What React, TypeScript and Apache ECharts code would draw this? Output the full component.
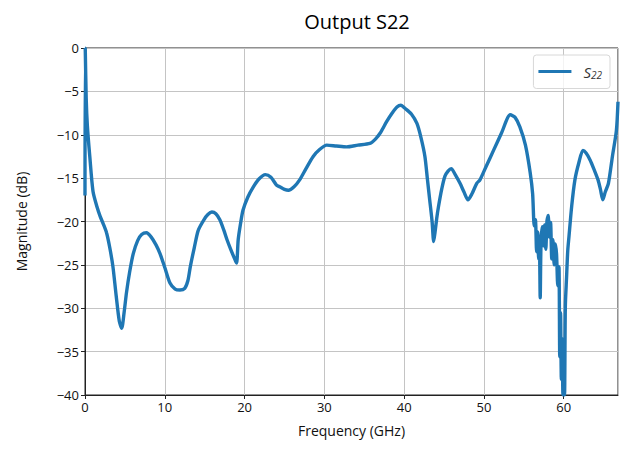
import React, { useEffect, useRef } from "react";
import * as echarts from "echarts";

const freqGHz = [
  0, 0.03, 0.15, 0.3, 0.6, 1.0, 1.5, 1.9, 2.3, 2.7, 3.1, 3.5, 3.9, 4.3, 4.6, 4.9, 5.2, 5.6, 6.05, 6.6, 7.1, 7.7, 8.3, 8.9, 9.4,
  10.0, 10.65, 11.3, 11.9, 12.5, 12.9, 13.2, 13.7, 14.2, 14.9, 15.4, 15.9, 16.4, 16.9, 17.4, 17.8, 18.3, 18.8, 19.0, 19.2,
  19.5, 19.8, 20.4, 21.1, 21.8, 22.6, 23.3, 24.0, 24.4, 25.0, 25.5, 26.2, 26.9, 27.7, 28.6, 29.4, 30.3, 31.5, 32.8, 34.2,
  35.7, 36.4, 37.0, 37.8, 38.5, 39.1, 39.6, 40.1, 40.9, 41.6, 42.1, 42.6, 42.9, 43.2, 43.5, 43.7, 43.9, 44.1, 44.3, 44.7,
  45.1, 45.5, 45.9, 46.4, 47.0, 47.5, 48.0, 48.5, 49.1, 49.5, 50.3, 51.2, 52.2, 53.3, 53.9, 54.5, 55.2, 55.8, 56.1, 56.3,
  56.45, 56.6, 56.75, 56.85, 56.95, 57.05, 57.15, 57.3, 57.45, 57.6, 57.75, 57.9, 58.05, 58.2, 58.35, 58.5, 58.65, 58.8,
  58.95, 59.1, 59.25, 59.4, 59.5, 59.6, 59.7, 59.8, 59.9, 60.0, 60.1, 60.2, 60.35, 60.5, 60.65,
  61.0, 61.4, 61.9, 62.4, 62.8, 63.3, 63.8, 64.3, 64.6, 64.9, 65.2, 65.6, 66.1, 66.6, 66.8
];

const s22dB = [
  -17, 0, -5.8, -9, -12.5, -16.5, -18.3, -19.4, -20.3, -21.3, -23, -25.2, -28.5, -31.5, -32.3, -30.5, -28.2, -25.8, -23.7, -22.2, -21.5, -21.3, -21.8, -22.7, -23.7,
  -25.3, -27.1, -27.8, -27.9, -27.7, -26.8, -25.2, -23, -21, -19.8, -19.2, -18.9, -19.1, -19.8, -21, -22.1, -23.3, -24.4, -24.8, -22.1,
  -20.2, -18.7, -17.2, -16, -15.1, -14.6, -14.9, -15.8, -16, -16.3, -16.4, -16, -15.2, -13.9, -12.5, -11.7, -11.2, -11.3, -11.4, -11.2,
  -11, -10.5, -9.8, -8.5, -7.5, -6.8, -6.6, -6.95, -7.6, -8.7, -10.3, -12.5, -15, -17.5, -20, -22.3, -21, -19.5, -18.3, -16.3,
  -14.8, -14.2, -13.9, -14.6, -15.6, -16.6, -17.5, -16.8, -15.6, -15.2, -13.6, -11.8, -9.8, -7.7, -8, -9.1, -11.2, -14.4, -16.8, -20.5,
  -19.8, -23.5, -21.2, -24.3, -22.4, -28.8, -22.5, -20.6, -22.8, -20.4, -23.2, -19.9, -19.3, -21.8, -20.1, -24.3, -22.1, -25.0,
  -22.6, -23.8, -27.4, -25.2, -35.6, -30.5, -38.2, -33.5, -40, -37.5, -40, -29.8, -26.5, -23.4, -21.8,
  -18.2, -15.2, -13.2, -11.8, -12.1, -12.9, -14, -15.2, -16.3, -17.5, -16.6, -15.6, -12.5, -9.5, -6.2
];

const seriesName = "S22";
const chartTitle = "Output S22";
const xAxisTitle = "Frequency (GHz)";
const yAxisTitle = "Magnitude (dB)";

const fmtMinus = (v: number) => (v < 0 ? "\u2212" + Math.abs(v) : String(v));

export default function App() {
  const ref = useRef<HTMLDivElement>(null);
  useEffect(() => {
    if (!ref.current) return;
    const chart = echarts.init(ref.current, undefined, { renderer: "svg" });
    const font = "Open Sans";
    chart.setOption({
      animation: false,
      backgroundColor: "#fff",
      title: {
        text: chartTitle,
        left: 352,
        textAlign: "center",
        top: 6,
        textStyle: { fontFamily: font, fontSize: 20, fontWeight: "normal", color: "#000" },
      },
      grid: {
        left: 85,
        right: 5,
        top: 48,
        bottom: 58,
        show: true,
        borderColor: "#222",
        borderWidth: 1,
        backgroundColor: "transparent",
      },
      legend: {
        right: 13,
        top: 55,
        orient: "vertical",
        data: [{ name: seriesName, icon: "rect" }],
        itemWidth: 33,
        itemHeight: 3,
        itemGap: 4,
        padding: [9, 8, 9, 5],
        borderColor: "#d8d8d8",
        borderWidth: 1,
        borderRadius: 3,
        backgroundColor: "rgba(255,255,255,0.8)",
        formatter: () => "{s|S}{sub|22}",
        textStyle: {
          rich: {
            s: { fontFamily: font, fontStyle: "italic", fontSize: 15, color: "#333", padding: [0, 0, 0, 7] },
            sub: { fontFamily: font, fontStyle: "italic", fontSize: 10, color: "#333", verticalAlign: "bottom", padding: [6, 0, 0, 0] },
          },
        },
      },
      xAxis: {
        type: "value",
        min: 0,
        max: 66.8,
        interval: 10,
        name: xAxisTitle,
        nameLocation: "middle",
        nameGap: 28,
        nameTextStyle: { fontFamily: font, fontSize: 14, color: "#111" },
        axisLine: { show: true, onZero: false, lineStyle: { color: "#222" } },
        axisTick: { show: true, inside: false, length: 4, lineStyle: { color: "#222" } },
        axisLabel: { showMaxLabel: false, fontFamily: font, fontSize: 13, color: "#111", margin: 5, formatter: fmtMinus },
        splitLine: { show: true, lineStyle: { color: "#c4c4c4", width: 1 } },
      },
      yAxis: {
        type: "value",
        min: -40,
        max: 0,
        interval: 5,
        name: yAxisTitle,
        nameLocation: "middle",
        nameGap: 57,
        nameTextStyle: { fontFamily: font, fontSize: 14, color: "#111" },
        axisLine: { show: true, onZero: false, lineStyle: { color: "#222" } },
        axisTick: { show: true, inside: false, length: 4, lineStyle: { color: "#222" } },
        axisLabel: { fontFamily: font, fontSize: 13, color: "#111", margin: 6, formatter: fmtMinus },
        splitLine: { show: true, lineStyle: { color: "#c4c4c4", width: 1 } },
      },
      series: [
        {
          name: seriesName,
          type: "line",
          data: freqGHz.map((f, i) => [f, s22dB[i]]),
          showSymbol: false,
          symbol: "none",
          smooth: 0.25,
          clip: true,
          itemStyle: { color: "#1f77b4" },
          lineStyle: { color: "#1f77b4", width: 3.4 },
        },
      ],
    });
    return () => chart.dispose();
  }, []);
  return <div ref={ref} style={{ width: 623, height: 453, position: "absolute", left: 0, top: 0 }} />;
}
